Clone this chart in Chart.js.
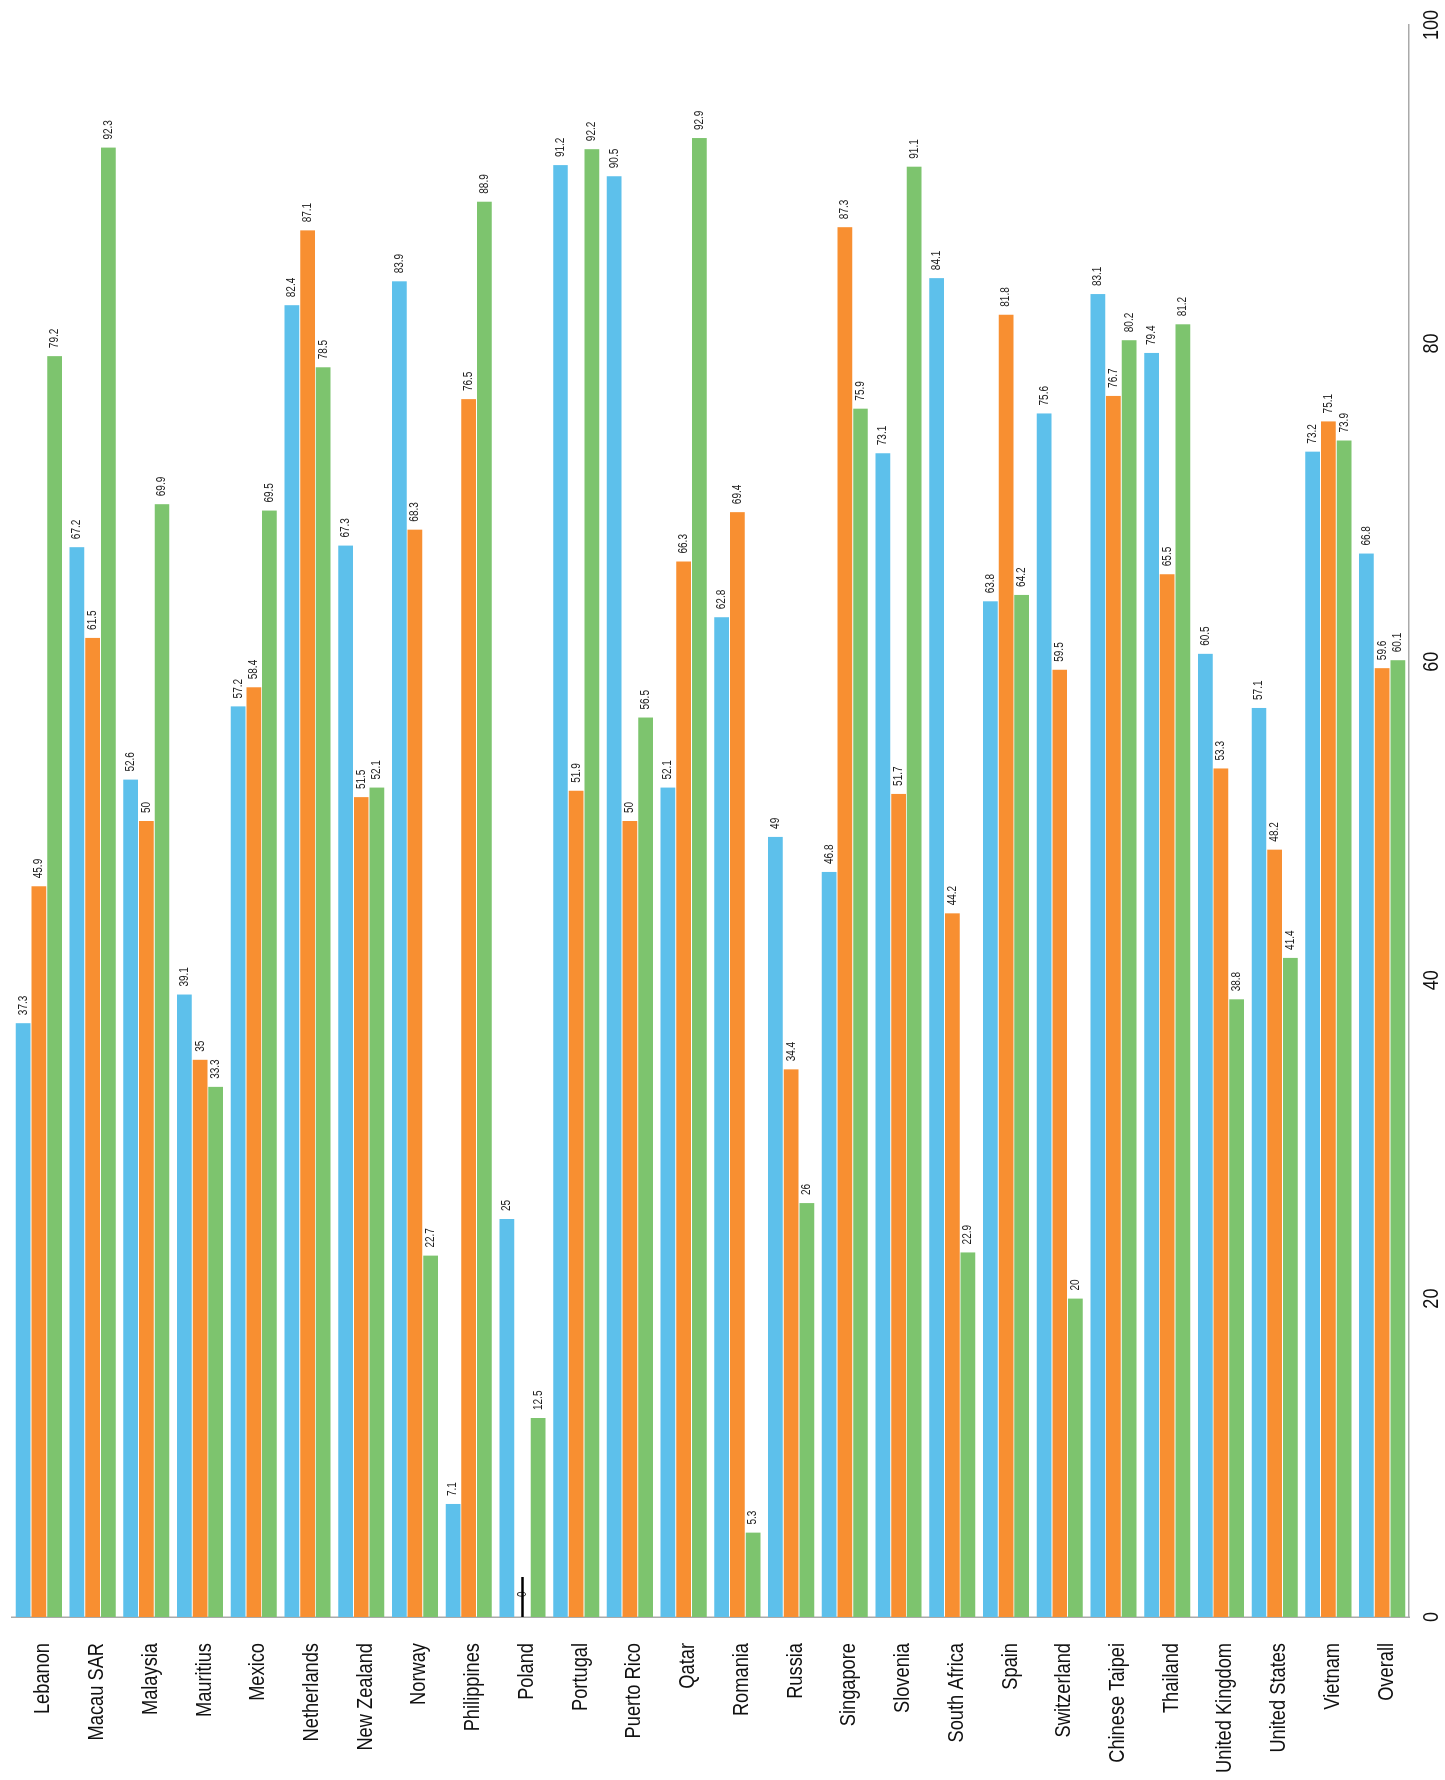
<!DOCTYPE html>
<html>
<head>
<meta charset="utf-8">
<title>Survey results by country</title>
<script src="https://cdn.jsdelivr.net/npm/chart.js@4/dist/chart.umd.min.js"></script>
<style>
  html, body { margin: 0; padding: 0; overflow: hidden; background: #fff; }
  /* the chart is drawn as a horizontal bar chart and turned a quarter left */
  #wrap {
    position: absolute;
    left: 0;
    top: 0;
    width: 1780px;
    height: 1445px;
    transform-origin: 0 0;
    transform: translateY(1780px) rotate(-90deg);
  }
</style>
</head>
<body>
<div id="wrap"><canvas id="chart" width="1780" height="1445"></canvas></div>
<script>
var categories = [
  "Lebanon", "Macau SAR", "Malaysia", "Mauritius", "Mexico", "Netherlands",
  "New Zealand", "Norway", "Philippines", "Poland", "Portugal", "Puerto Rico",
  "Qatar", "Romania", "Russia", "Singapore", "Slovenia", "South Africa",
  "Spain", "Switzerland", "Chinese Taipei", "Thailand", "United Kingdom",
  "United States", "Vietnam", "Overall"
];

var seriesBlue = [
  37.3, 67.2, 52.6, 39.1, 57.2, 82.4, 67.3, 83.9, 7.1, 25, 91.2, 90.5,
  52.1, 62.8, 49, 46.8, 73.1, 84.1, 63.8, 75.6, 83.1, 79.4, 60.5, 57.1,
  73.2, 66.8
];

var seriesOrange = [
  45.9, 61.5, 50, 35, 58.4, 87.1, 51.5, 68.3, 76.5, 0, 51.9, 50,
  66.3, 69.4, 34.4, 87.3, 51.7, 44.2, 81.8, 59.5, 76.7, 65.5, 53.3, 48.2,
  75.1, 59.6
];

var seriesGreen = [
  79.2, 92.3, 69.9, 33.3, 69.5, 78.5, 52.1, 22.7, 88.9, 12.5, 92.2, 56.5,
  92.9, 5.3, 26, 75.9, 91.1, 22.9, 64.2, 20, 80.2, 81.2, 38.8, 41.4,
  73.9, 60.1
];

var valueTicks = [0, 20, 40, 60, 80, 100];

var FONT = "'Liberation Sans', Arial, 'Roboto', sans-serif";

// narrow text: the original uses a condensed face, so squeeze a regular one
function narrowText(ctx, text, x, y, squeeze) {
  ctx.save();
  ctx.translate(x, y);
  ctx.scale(squeeze, 1);
  ctx.fillText(text, 0, 0);
  ctx.restore();
}

var axisLabels = {
  id: "axisLabels",
  afterDraw: function (chart) {
    var ctx = chart.ctx;
    var area = chart.chartArea;
    var xs = chart.scales.x;
    var ys = chart.scales.y;
    ctx.save();
    ctx.fillStyle = "#111";
    ctx.font = "22px " + FONT;
    ctx.textBaseline = "alphabetic";

    ctx.textAlign = "right";
    categories.forEach(function (name, i) {
      narrowText(ctx, name, area.left - 26, ys.getPixelForValue(i) + 10.5, 0.83);
    });

    ctx.textAlign = "center";
    valueTicks.forEach(function (v) {
      narrowText(ctx, String(v), xs.getPixelForValue(v), area.bottom + 29, 0.82);
    });
    ctx.restore();
  }
};

var barLabels = {
  id: "barLabels",
  afterDatasetsDraw: function (chart) {
    var ctx = chart.ctx;
    ctx.save();
    ctx.font = "12.5px " + FONT;
    ctx.fillStyle = "#222";
    ctx.textAlign = "left";
    ctx.textBaseline = "middle";
    chart.data.datasets.forEach(function (ds, i) {
      chart.getDatasetMeta(i).data.forEach(function (bar, j) {
        var v = ds.data[j];
        if (v === 0) {
          narrowText(ctx, "0", bar.base + 20, bar.y, 0.8);
          ctx.strokeStyle = "#000";
          ctx.lineWidth = 2.5;
          ctx.beginPath();
          ctx.moveTo(bar.base, bar.y);
          ctx.lineTo(bar.base + 40, bar.y);
          ctx.stroke();
        } else {
          narrowText(ctx, String(v), bar.x + 8, bar.y, 0.8);
        }
      });
    });
    ctx.restore();
  }
};

function dataset(label, values, color) {
  return {
    label: label,
    data: values,
    backgroundColor: color,
    borderWidth: 0,
    categoryPercentage: 0.875,
    barPercentage: 0.94
  };
}

new Chart(document.getElementById("chart"), {
  type: "bar",
  data: {
    labels: categories,
    datasets: [
      dataset("Series 1", seriesBlue, "#5dc0eb"),
      dataset("Series 2", seriesOrange, "#f88f31"),
      dataset("Series 3", seriesGreen, "#7dc46e")
    ]
  },
  options: {
    indexAxis: "y",
    responsive: false,
    animation: false,
    devicePixelRatio: 1,
    layout: { padding: { top: 12, right: 25, left: 0, bottom: 0 } },
    plugins: {
      legend: { display: false },
      tooltip: { enabled: false }
    },
    scales: {
      x: {
        min: valueTicks[0],
        max: valueTicks[valueTicks.length - 1],
        ticks: { display: false, stepSize: 20 },
        grid: { display: false, drawTicks: false, tickLength: 0 },
        border: { display: true, color: "#aaa", width: 1.5 },
        afterFit: function (scale) {
          scale.height = 36;
          scale.paddingLeft = 0;
          scale.paddingRight = 0;
        }
      },
      y: {
        ticks: { display: false },
        grid: { display: false, drawTicks: false, tickLength: 0 },
        border: { display: true, color: "#aaa", width: 1.5 },
        afterFit: function (scale) {
          scale.width = 163;
          scale.paddingTop = 0;
          scale.paddingBottom = 0;
        }
      }
    }
  },
  plugins: [barLabels, axisLabels]
});
</script>
</body>
</html>
